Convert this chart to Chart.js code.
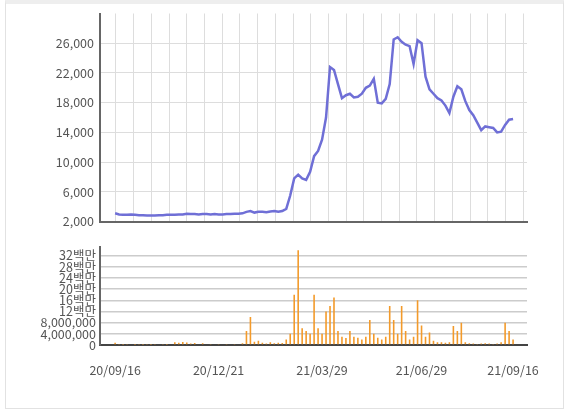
<!DOCTYPE html>
<html>
<head>
<meta charset="utf-8">
<script src="https://cdn.jsdelivr.net/npm/chart.js@4"></script>
<style>
body{margin:0;background:#fff;width:578px;height:413px;overflow:hidden;position:relative}
#frame{position:absolute;left:5px;top:0;width:559px;height:409px;border:1px solid #e2e2e2;border-top:4px solid #eee;box-sizing:border-box}
#c1{position:absolute;left:0;top:0}
#c2{position:absolute;left:0;top:235px}
</style>
</head>
<body>
<div id="frame"></div>
<canvas id="c1" width="578" height="235"></canvas>
<canvas id="c2" width="578" height="178"></canvas>
<script>
const tickIdx = [0, 26, 52, 77, 100];
const tickLabels = ['20/09/16', '20/12/21', '21/03/29', '21/06/29', '21/09/16'];
const price = [3100,2950,2900,2900,2950,2900,2850,2850,2800,2800,2800,2850,2850,2900,2900,2900,2950,2950,3050,3000,
  3000,2950,3000,3000,2950,3000,2950,2950,3000,3000,3050,3050,3100,3300,3400,3200,3300,3300,3250,3350,
  3400,3300,3400,3700,5500,7800,8300,7800,7600,8700,10800,11500,13000,16000,22800,22400,20500,18600,19000,19200,
  18700,18800,19200,20000,20300,21200,18000,17900,18500,20500,26500,26800,26200,25800,25600,23200,26400,26000,21500,19800,
  19200,18600,18300,17600,16600,18800,20200,19800,18200,17000,16300,15300,14300,14800,14700,14600,14000,14100,15000,15700,15800];
// 백만 단위
const volume = [0.8,0.2,0.1,0.2,0.3,0.1,0.2,0.1,0.2,0.1,0.2,0.3,0.2,0.1,0.3,1,0.8,1.1,0.9,0.5,
  0.7,0.3,0.6,0.3,0.2,0.3,0.2,0.3,0.2,0.3,0.2,0.3,0.6,5,10,1.2,1.5,0.8,0.5,1,
  0.6,0.8,0.7,2,4,18,34,6,5,4,18,6,4,12,14,17,5,3,2.5,5,
  3,2.6,2,3,9,4,2.6,2,3,14,9,4,14,5,2,3,16,7,3,4.5,
  1.5,1,1,0.8,1,6.8,5,8,1,0.6,0.5,0.4,0.5,0.6,0.5,0.4,0.5,1,8,5,2];

const font = {family: "'Noto Sans CJK KR', 'Open Sans', sans-serif", size: 12.5};
Chart.defaults.color = '#555';
Chart.defaults.animation = false;

const xs = price.map((v, i) => ({x: i, y: v}));
const vs = volume.map((v, i) => ({x: i, y: v * 1000000}));

new Chart(document.getElementById('c1'), {
  type: 'line',
  data: {datasets: [{data: xs, borderColor: '#6f6fd6', borderWidth: 2.5, pointRadius: 0, tension: 0}]},
  options: {
    responsive: false,
    layout: {padding: {top: 12, right: 51, bottom: 11, left: 0}},
    plugins: {legend: {display: false}, tooltip: {enabled: false}},
    scales: {
      x: {
        type: 'linear', min: -3.8, max: 103.5,
        afterBuildTicks: a => { const t = []; for (let k = 0; k < 24; k++) t.push({value: 0.2 + 4.45 * k}); a.ticks = t; },
        ticks: {display: false},
        grid: {color: '#ddd', drawTicks: false},
        border: {color: '#666', width: 2}
      },
      y: {
        min: 2000, max: 30000,
        afterFit: a => { a.width = 100; },
        afterBuildTicks: a => { a.ticks = [2000,6000,10000,14000,18000,22000,26000].map(v => ({value: v})); },
        ticks: {font: font, color: '#555', padding: 6, callback: v => v.toLocaleString('en-US')},
        grid: {color: '#ddd', drawTicks: false},
        border: {color: '#666', width: 2}
      }
    }
  }
});

new Chart(document.getElementById('c2'), {
  type: 'bar',
  data: {datasets: [{data: vs, backgroundColor: '#f39a2a', borderWidth: 0, barPercentage: 0.4, categoryPercentage: 1}]},
  options: {
    responsive: false,
    layout: {padding: {top: 5, right: 51, bottom: 0, left: 0}},
    plugins: {legend: {display: false}, tooltip: {enabled: false}},
    scales: {
      x: {
        type: 'linear', min: -3.8, max: 103.5, offset: false,
        afterFit: a => { a.height = 68; },
        afterBuildTicks: a => { a.ticks = tickIdx.map(v => ({value: v})); },
        ticks: {font: font, color: '#555', padding: 10, maxRotation: 0, autoSkip: false,
          callback: v => tickLabels[tickIdx.indexOf(v)]},
        grid: {display: false},
        border: {color: '#444', width: 2}
      },
      y: {
        min: 0, max: 35300000,
        afterFit: a => { a.width = 100; },
        afterBuildTicks: a => { const t = []; for (let v = 0; v <= 32000000; v += 4000000) t.push({value: v}); a.ticks = t; },
        ticks: {font: font, color: '#555', padding: 4, autoSkip: false,
          callback: v => v >= 12000000 ? (v / 1000000) + '백만' : v.toLocaleString('en-US')},
        grid: {color: '#ccc', lineWidth: 1.5, drawTicks: false},
        border: {color: '#666', width: 2}
      }
    }
  }
});
</script>
</body>
</html>
